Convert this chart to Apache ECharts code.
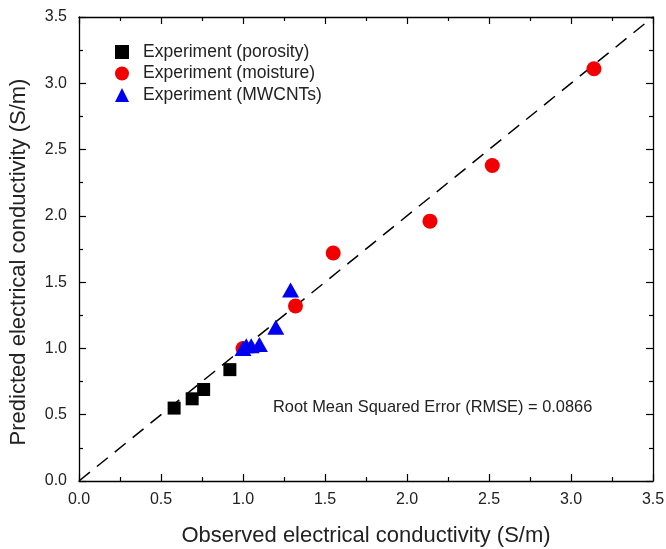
<!DOCTYPE html>
<html>
<head>
<meta charset="utf-8">
<script src="https://cdn.jsdelivr.net/npm/echarts@6/dist/echarts.min.js"></script>
<style>
  html, body { margin: 0; padding: 0; background: #fff; }
  #chart { width: 666px; height: 549px; }
</style>
</head>
<body>
<div id="chart"></div>
<script>
// observed / predicted pairs (S/m)
var porosity = [[0.58, 0.55], [0.69, 0.62], [0.76, 0.69], [0.92, 0.84]];
var moisture = [[1.00, 1.00], [1.32, 1.32], [1.55, 1.72], [2.14, 1.96], [2.52, 2.38], [3.14, 3.11]];
var mwcnts = [[1.00, 1.00], [1.02, 1.02], [1.05, 1.02], [1.10, 1.03], [1.20, 1.16], [1.29, 1.44]];
var identity = [[0, 0], [3.5, 3.5]];
var seriesNames = ["Experiment (porosity)", "Experiment (moisture)", "Experiment (MWCNTs)"];
var rmseText = "Root Mean Squared Error (RMSE) = 0.0866";

var font = "'Liberation Sans', Arial, sans-serif";
var textColor = "#222";

function axis(pos, labels) {
  return {
    type: "value",
    position: pos,
    min: 0,
    max: 3.5,
    interval: 0.5,
    axisLine: { show: true, onZero: false, lineStyle: { color: "#000", width: 1.3 } },
    axisTick: { show: true, inside: true, length: 7, lineStyle: { color: "#000", width: 1.2 } },
    minorTick: { show: true, splitNumber: 2, length: 4, lineStyle: { color: "#000", width: 1.2 } },
    splitLine: { show: false },
    axisLabel: {
      show: labels,
      color: textColor,
      fontFamily: font,
      fontSize: 16,
      margin: pos == "left" ? 12 : 11,
      formatter: function (v) { return v.toFixed(1); }
    }
  };
}

var chart = echarts.init(document.getElementById("chart"));

var xBottom = axis("bottom", true);
xBottom.name = "Observed electrical conductivity (S/m)";
xBottom.nameLocation = "middle";
xBottom.nameGap = 44;
xBottom.nameTextStyle = { color: textColor, fontFamily: font, fontSize: 22 };
var xTop = axis("top", false);

var yLeft = axis("left", true);
yLeft.name = "Predicted electrical conductivity (S/m)";
yLeft.nameLocation = "middle";
yLeft.nameGap = 49;
// push the rotated title a bit down like the original
yLeft.nameTextStyle = { color: textColor, fontFamily: font, fontSize: 22, padding: [0, 26, 0, 0] };
var yRight = axis("right", false);

chart.setOption({
  animation: false,
  backgroundColor: "#fff",
  grid: { left: 79, right: 13, top: 17, bottom: 68, outerBoundsMode: "none" },
  xAxis: [xBottom, xTop],
  yAxis: [yLeft, yRight],
  legend: {
    orient: "vertical",
    left: 110,
    top: 38,
    itemWidth: 14,
    itemHeight: 14,
    itemGap: 3.5,
    textStyle: { color: textColor, fontFamily: font, fontSize: 17.5, padding: [0, 0, 0, 9] },
    data: [
      { name: seriesNames[0], icon: "rect" },
      { name: seriesNames[1], icon: "circle" },
      { name: seriesNames[2], icon: "triangle" }
    ]
  },
  graphic: [{
    type: "text",
    left: 273,
    top: 399,
    style: { text: rmseText, fill: textColor, font: "16.4px " + font }
  }],
  series: [
    {
      type: "line",
      data: identity,
      symbol: "none",
      silent: true,
      lineStyle: { color: "#000", width: 1.5, type: [14, 9] },
      z: 1
    },
    {
      name: seriesNames[0],
      type: "scatter",
      data: porosity,
      symbol: "rect",
      symbolSize: 13,
      itemStyle: { color: "#000", opacity: 1 }
    },
    {
      name: seriesNames[1],
      type: "scatter",
      data: moisture,
      symbol: "circle",
      symbolSize: 15,
      itemStyle: { color: "#f20000", opacity: 1 }
    },
    {
      name: seriesNames[2],
      type: "scatter",
      data: mwcnts,
      symbol: "triangle",
      symbolSize: [17, 15],
      itemStyle: { color: "#0000f0", opacity: 1 }
    }
  ]
});
</script>
</body>
</html>
